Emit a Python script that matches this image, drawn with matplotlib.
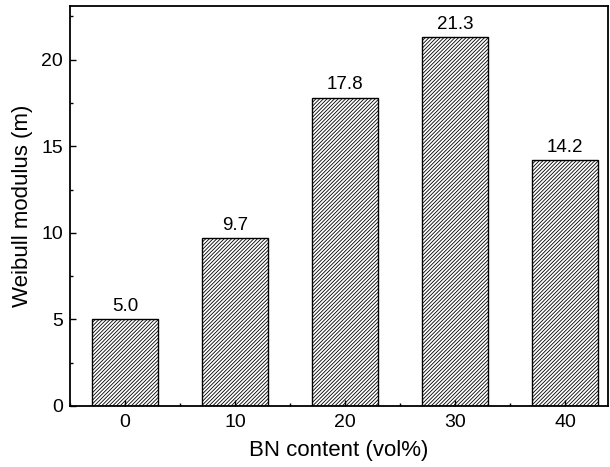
import numpy as np
import matplotlib.pyplot as plt
from matplotlib.ticker import MultipleLocator

# BN 含量与 Weibull 模数
bn_content = ['0', '10', '20', '30', '40']
weibull_m = [5.0, 9.7, 17.8, 21.3, 14.2]
bar_labels = ['5.0', '9.7', '17.8', '21.3', '14.2']

plt.rcParams['font.family'] = ['Liberation Sans', 'DejaVu Sans']
plt.rcParams['hatch.linewidth'] = 0.6

fig = plt.figure(figsize=(6.10, 4.67), dpi=100)
ax = fig.add_axes([70 / 610, 61 / 467, 538 / 610, 400 / 467])

x = np.arange(len(bn_content))
bars = ax.bar(x, weibull_m, width=0.6, color='white', edgecolor='black',
              linewidth=1.0, hatch='/////////')
for b, lab in zip(bars, bar_labels):
    ax.text(b.get_x() + b.get_width() / 2, b.get_height() + 0.25, lab,
            ha='center', va='bottom', fontsize=13.5)

ax.set_xlim(-0.5, 4.39)
ax.set_ylim(0, 23.1)
ax.set_xticks(x)
ax.set_xticklabels(bn_content)
ax.xaxis.set_minor_locator(MultipleLocator(0.5))
ax.yaxis.set_major_locator(MultipleLocator(5))
ax.yaxis.set_minor_locator(MultipleLocator(2.5))
ax.tick_params(which='both', direction='in', labelsize=14, width=1)
ax.tick_params(which='major', length=4)
ax.tick_params(which='minor', length=2.5)
ax.tick_params(axis='x', pad=6)
ax.tick_params(axis='y', pad=5)
for s in ax.spines.values():
    s.set_linewidth(1.3)

ax.set_xlabel('BN content (vol%)', fontsize=16, labelpad=6)
ax.set_ylabel('Weibull modulus (m)', fontsize=16, labelpad=6)

fig.savefig('out.png', dpi=100)
